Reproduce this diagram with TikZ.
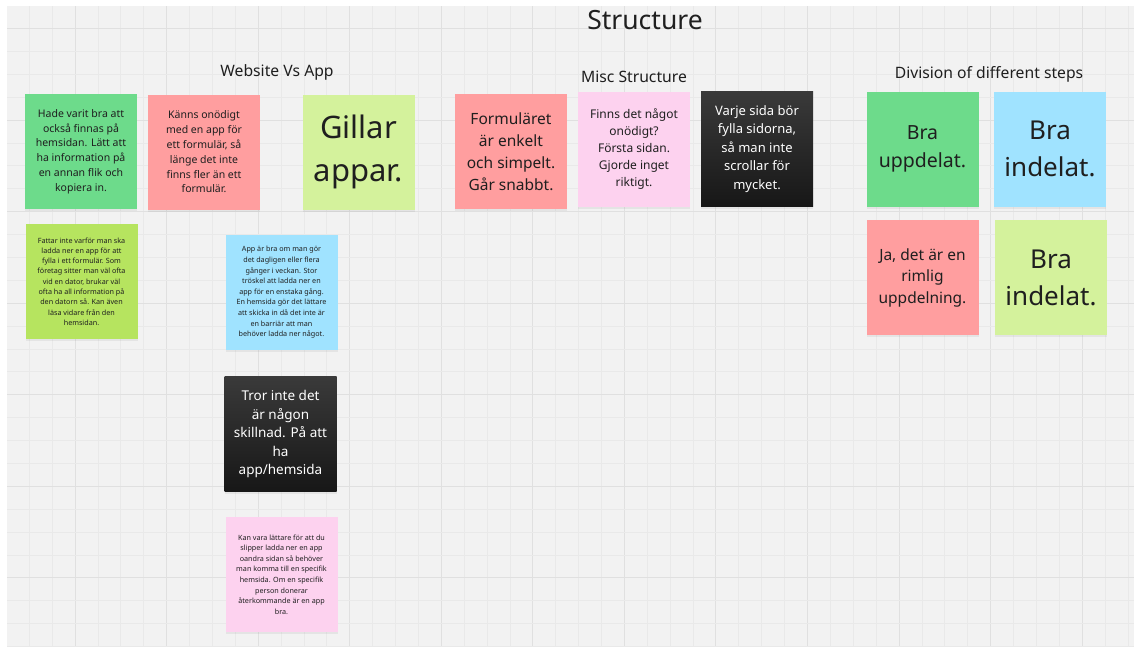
\documentclass[tikz,border=0pt]{standalone}
\usepackage{fontspec}
\setmainfont{Noto Sans}
\usetikzlibrary{shadows}

\definecolor{board}{HTML}{F2F2F2}
\definecolor{gridminor}{HTML}{E9E9E9}
\definecolor{gridmajor}{HTML}{E0E0E0}
\definecolor{inktext}{HTML}{1F1F1F}
\definecolor{mgreen}{HTML}{6DDB8B}
\definecolor{mred}{HTML}{FF9E9F}
\definecolor{mlight}{HTML}{D4F29C}
\definecolor{mlime}{HTML}{B6E45F}
\definecolor{mcyan}{HTML}{A0E3FF}
\definecolor{mpink}{HTML}{FDD2EF}
\definecolor{mdark}{HTML}{171717}

\newcommand\fsz[2]{\fontsize{#1}{#2}\selectfont}

\tikzset{
  note/.style={minimum width=112pt, minimum height=115pt, inner sep=0pt,
    align=center, text=inktext,
    drop shadow={opacity=0.12, shadow xshift=0pt, shadow yshift=-2pt}},
  darknote/.style={note, text=white},
  heading/.style={text=inktext, inner sep=0pt},
}

\begin{document}
\begin{tikzpicture}[x=1pt,y=-1pt]
  \useasboundingbox (0,0) rectangle (1134,646);
  \fill[white] (0,0) rectangle (1134,646);
  \fill[board] (7,6) rectangle (1134,646);

  % board grid: fine lines every 22.89, stronger every fourth
  \begin{scope}
    \clip (7,6) rectangle (1134,646);
    \foreach \k in {0,...,49} {
      \pgfmathsetmacro\xx{6.33+22.89*\k}
      \pgfmathtruncatemacro\mm{mod(\k,4)}
      \ifnum\mm=3
        \draw[gridmajor, line width=1pt] (\xx,6) -- (\xx,646);
      \else
        \draw[gridminor, line width=0.7pt] (\xx,6) -- (\xx,646);
      \fi
    }
    \foreach \k in {0,...,28} {
      \pgfmathsetmacro\yy{5.6+22.89*\k}
      \pgfmathtruncatemacro\mm{mod(\k,4)}
      \ifnum\mm=1
        \draw[gridmajor, line width=1pt] (7,\yy) -- (1134,\yy);
      \else
        \draw[gridminor, line width=0.7pt] (7,\yy) -- (1134,\yy);
      \fi
    }
  \end{scope}

  % headings
  \node[heading, font=\fsz{26.5}{30}] (title) at (645,20) {Structure};
  \node[heading, font=\fsz{15.7}{18}] (hweb) at (277,72) {Website Vs App};
  \node[heading, font=\fsz{15.7}{18}] (hmisc) at (634,77) {Misc Structure};
  \node[heading, font=\fsz{15.7}{18}] (hdiv) at (989,74) {Division of different steps};

  % Website Vs App
  \node[note, fill=mgreen, font=\fsz{10.5}{14.8}] (web1) at (81,151.5)
    {Hade varit bra att\\också finnas på\\hemsidan. Lätt att\\ha information på\\en annan flik och\\kopiera in.};
  \node[note, fill=mred, font=\fsz{10.5}{14.8}] (web2) at (204,152)
    {Känns onödigt\\med en app för\\ett formulär, så\\länge det inte\\finns fler än ett\\formulär.};
  \node[note, fill=mlight, font=\fsz{31}{43}] (web3) at (358.5,152)
    {Gillar\\appar.};
  \node[note, fill=mlime, font=\fsz{7.2}{10.3}] (web4) at (81.5,281.5)
    {Fattar inte varför man ska\\ladda ner en app för att\\fylla i ett formulär. Som\\företag sitter man väl ofta\\vid en dator, brukar väl\\ofta ha all information på\\den datorn så. Kan även\\läsa vidare från den\\hemsidan.};
  \node[note, fill=mcyan, font=\fsz{7.2}{10.6}] (web5) at (281.5,292.5)
    {App är bra om man gör\\det dagligen eller flera\\gånger i veckan. Stor\\tröskel att ladda ner en\\app för en enstaka gång.\\En hemsida gör det lättare\\att skicka in då det inte är\\en barriär att man\\behöver ladda ner något.};
  \node[darknote, top color=mdark!85!white, bottom color=mdark, font=\fsz{13.5}{18.5}] (web6) at (280.5,434)
    {Tror inte det\\är någon\\skillnad. På att\\ha\\app/hemsida};
  \node[note, fill=mpink, font=\fsz{7.2}{10.6}] (web7) at (281.5,574.5)
    {Kan vara lättare för att du\\slipper ladda ner en app\\oandra sidan så behöver\\man komma till en specifik\\hemsida. Om en specifik\\person donerar\\återkommande är en app\\bra.};

  % Misc Structure
  \node[note, fill=mred, font=\fsz{15.5}{22}] (misc1) at (511,151.5)
    {Formuläret\\är enkelt\\och simpelt.\\Går snabbt.};
  \node[note, fill=mpink, font=\fsz{12}{17}] (misc2) at (634,149.5)
    {Finns det något\\onödigt?\\Första sidan.\\Gjorde inget\\riktigt.};
  \node[darknote, top color=mdark!85!white, bottom color=mdark, font=\fsz{13}{18.5}] (misc3) at (757,149)
    {Varje sida bör\\fylla sidorna,\\så man inte\\scrollar för\\mycket.};

  % Division of different steps
  \node[note, fill=mgreen, font=\fsz{19.5}{28}] (div1) at (922.5,149)
    {Bra\\uppdelat.};
  \node[note, fill=mcyan, font=\fsz{26}{37}] (div2) at (1050,149)
    {Bra\\indelat.};
  \node[note, fill=mred, font=\fsz{15.5}{21.5}] (div3) at (922.5,277.5)
    {Ja, det är en\\rimlig\\uppdelning.};
  \node[note, fill=mlight, font=\fsz{26}{37}] (div4) at (1051,277.5)
    {Bra\\indelat.};
\end{tikzpicture}
\end{document}
